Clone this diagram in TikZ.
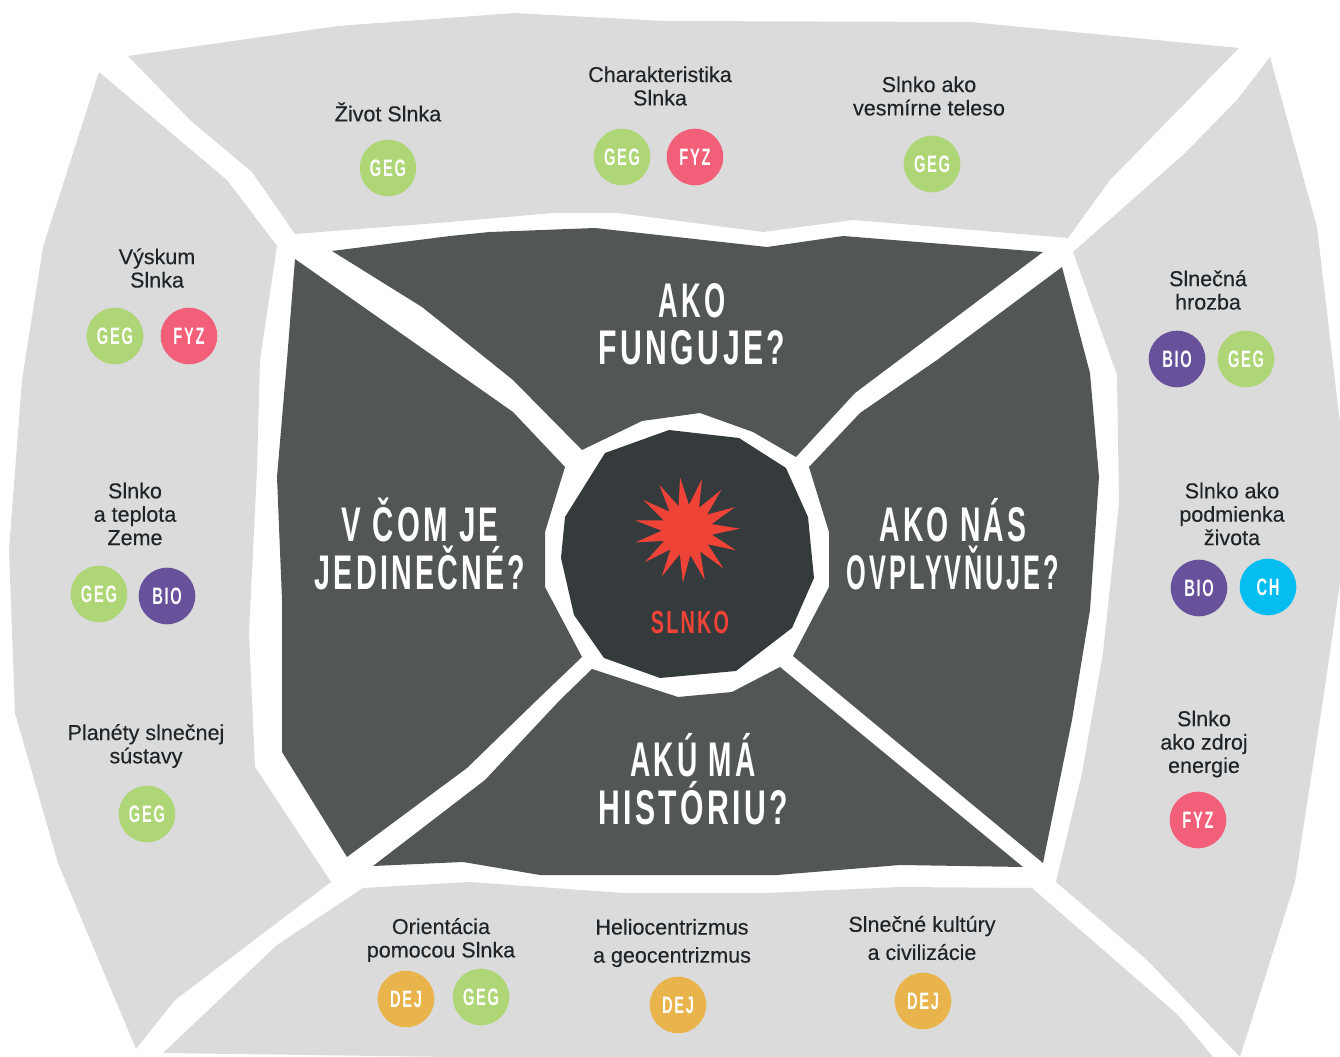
\documentclass[tikz,border=0pt]{standalone}
\usepackage{fontspec}
\usetikzlibrary{shapes.geometric}
\setmainfont{Liberation Sans}
\newfontfamily\labelfont[FakeBold=0.25]{Liberation Sans}
\newfontfamily\stencilfont[FakeStretch=0.62,LetterSpace=7]{Liberation Sans}
\newcommand{\squeezed}[2]{\scalebox{#1}[1]{#2}}
\definecolor{panelcol}{HTML}{DBDBDB}
\definecolor{sectorcol}{HTML}{535657}
\definecolor{corecol}{HTML}{353A3C}
\definecolor{suncol}{HTML}{F04338}
\definecolor{inkcol}{HTML}{1E2428}
\definecolor{gegcol}{HTML}{AED576}
\definecolor{fyzcol}{HTML}{F25F78}
\definecolor{biocol}{HTML}{66519A}
\definecolor{chcol}{HTML}{05BDF0}
\definecolor{dejcol}{HTML}{E9B44C}
\tikzset{
  topic/.style={align=center,inner sep=0pt,text=inkcol,font=\labelfont\fontsize{12.25}{13.3}\selectfont},
  question/.style={align=center,inner sep=0pt,text=white,font=\stencilfont\bfseries\fontsize{27.7}{27}\selectfont},
  badge/.style={circle,inner sep=0pt,minimum size=1.132cm,text=white,font=\stencilfont\bfseries\fontsize{13.5}{14}\selectfont},
  geg/.style={badge,fill=gegcol},
  fyz/.style={badge,fill=fyzcol},
  bio/.style={badge,fill=biocol},
  chem/.style={badge,fill=chcol},
  dej/.style={badge,fill=dejcol}
}

\begin{document}
\begin{tikzpicture}[x=0.02cm,y=-0.02cm]
  \useasboundingbox (0,0) rectangle (1340,1057);
  % outer panels
  \fill[panelcol] (128,56) -- (338,26) -- (515,13) -- (663,21) -- (970,22) -- (1239,48) -- (1110,180) -- (1068,238)
    -- (890,223) -- (853,220) -- (763,232) -- (618,213) -- (553,213) -- (450,222) -- (295,234) -- (252,172) -- (190,120) -- cycle;
  \fill[panelcol] (99,72) -- (227,180) -- (277,246) -- (260,360) -- (257,470) -- (249,633) -- (252,700) -- (255,767)
    -- (331,882) -- (175,1000) -- (136,1049) -- (58,863) -- (15,713) -- (9,550) -- (22,380) -- (43,247) -- cycle;
  \fill[panelcol] (1270,57) -- (1317,227) -- (1342,440) -- (1342,570) -- (1323,700) -- (1295,882) -- (1240,1057)
    -- (1147,960) -- (1056,882) -- (1082,773) -- (1103,653) -- (1119,503) -- (1117,375) -- (1073,252) -- (1183,155) -- (1237,100) -- cycle;
  \fill[panelcol] (363,888) -- (470,882) -- (623,893) -- (767,893) -- (900,887) -- (1032,888) -- (1178,1015) -- (1213,1057)
    -- (450,1057) -- (163,1053) -- (277,945) -- cycle;
  % question sectors
  \fill[sectorcol] (332,251) -- (450,236) -- (490,232) -- (595,228) -- (767,247) -- (843,236) -- (1043,252) -- (855,393) -- (796,457)
    -- (753,432) -- (700,413) -- (642,421) -- (582,450) -- (513,380) -- (422,307) -- cycle;
  \fill[sectorcol] (295,259) -- (513,412) -- (565,467) -- (545,532) -- (545,587) -- (582,657) -- (537,700) -- (467,768) -- (347,857)
    -- (282,752) -- (282,600) -- (277,477) -- (287,360) -- cycle;
  \fill[sectorcol] (592,669) -- (678,697) -- (732,692) -- (780,667) -- (1023,867) -- (900,865) -- (777,875) -- (540,875) -- (463,862)
    -- (373,866) -- (485,780) -- (560,700) -- cycle;
  \fill[sectorcol] (1062,267) -- (1090,373) -- (1099,477) -- (1090,610) -- (1072,720) -- (1043,863) -- (793,656) -- (829,587)
    -- (829,532) -- (809,467) -- (860,413) -- (937,360) -- cycle;
  % core
  \fill[corecol] (669,430) -- (739,438) -- (786,468) -- (808,517) -- (814,578) -- (792,628) -- (736,671) -- (660,678)
    -- (604,658) -- (574,615) -- (561,558) -- (565,517) -- (605,453) -- cycle;
  \node[star,star points=15,star point ratio=2.1,shape border rotate=7.5,minimum size=2.12cm,inner sep=0pt,fill=suncol] at (687,530) (sun) {};
  \node[question,text=suncol,font=\stencilfont\bfseries\fontsize{18.2}{18}\selectfont] at (690,622) (slnko) {SLNKO};

  \node[question] at (692,324) (funguje) {\squeezed{0.9}{AKO}\\FUNGUJE?};
  \node[question] at (420,544) (jedinecne) {\squeezed{0.975}{V ČOM JE}\\\squeezed{0.95}{JEDINEČNÉ?}};
  \node[question] at (953,544) (ovplyvnuje) {\squeezed{0.94}{AKO NÁS}\\\squeezed{0.84}{OVPLYVŇUJE?}};
  \node[question] at (693,779) (historiu) {\squeezed{0.93}{AKÚ MÁ}\\HISTÓRIU?};

  % top
  \node[topic] at (388,112) (zivot) {Život Slnka};
  \node[geg] at (388,168) (zivotgeg) {GEG};
  \node[topic] at (660,86) (charakter) {Charakteristika\\Slnka};
  \node[geg] at (622,157) (charaktergeg) {GEG};
  \node[fyz] at (695,157) (charakterfyz) {FYZ};
  \node[topic] at (929,96) (teleso) {Slnko ako\\vesmírne teleso};
  \node[geg] at (932,164) (telesogeg) {GEG};
  % left
  \node[topic] at (157,268) (vyskum) {Výskum\\Slnka};
  \node[geg] at (115,336) (vyskumgeg) {GEG};
  \node[fyz] at (189,336) (vyskumfyz) {FYZ};
  \node[topic] at (135,514) (teplota) {Slnko\\a teplota\\Zeme};
  \node[geg] at (99,594) (teplotageg) {GEG};
  \node[bio] at (167,596) (teplotabio) {BIO};
  \node[topic] at (146,746) (planety) {Planéty slnečnej\\sústavy};
  \node[geg] at (147,814) (planetygeg) {GEG};
  % right
  \node[topic] at (1208,290) (hrozba) {Slnečná\\hrozba};
  \node[bio] at (1177,359) (hrozbabio) {BIO};
  \node[geg] at (1246,359) (hrozbageg) {GEG};
  \node[topic] at (1232,514) (podmienka) {Slnko ako\\podmienka\\života};
  \node[bio] at (1199,588) (podmienkabio) {BIO};
  \node[chem] at (1268,587) (podmienkach) {CH};
  \node[topic] at (1204,744) (zdroj) {Slnko\\ako zdroj\\energie};
  \node[fyz] at (1198,820) (zdrojfyz) {FYZ};
  % bottom
  \node[topic] at (441,940) (orientacia) {Orientácia\\pomocou Slnka};
  \node[dej] at (406,999) (orientaciadej) {DEJ};
  \node[geg] at (481,997) (orientaciageg) {GEG};
  \node[topic,font=\labelfont\fontsize{12.25}{16}\selectfont] at (672,943) (helio) {Heliocentrizmus\\a geocentrizmus};
  \node[dej] at (678,1005) (heliodej) {DEJ};
  \node[topic,font=\labelfont\fontsize{12.25}{16}\selectfont] at (922,938) (kultury) {Slnečné kultúry\\a civilizácie};
  \node[dej] at (923,1001) (kulturydej) {DEJ};
\end{tikzpicture}
\end{document}
